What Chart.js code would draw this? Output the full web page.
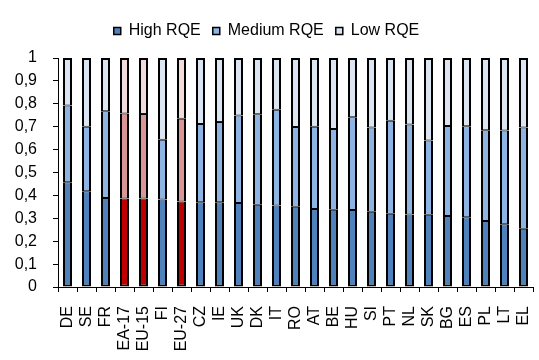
<!DOCTYPE html>
<html><head><meta charset="utf-8">
<script src="https://cdn.jsdelivr.net/npm/chart.js@4/dist/chart.umd.min.js"></script>
<style>html,body{margin:0;padding:0;background:#fff}#wrap{width:539px;height:360px}</style>
</head><body><div id="wrap"><canvas id="c" width="539" height="360"></canvas></div>
<script>
const categories = ["DE","SE","FR","EA-17","EU-15","FI","EU-27","CZ","IE","UK","DK","IT","RO","AT","BE","HU","SI","PT","NL","SK","BG","ES","PL","LT","EL"];
const highRQE   = [0.457,0.418,0.389,0.386,0.386,0.382,0.373,0.370,0.370,0.367,0.359,0.356,0.350,0.341,0.337,0.336,0.329,0.320,0.317,0.316,0.310,0.305,0.288,0.274,0.254];
const mediumRQE = [0.336,0.282,0.378,0.372,0.369,0.261,0.362,0.342,0.350,0.382,0.395,0.418,0.349,0.359,0.353,0.405,0.367,0.406,0.393,0.324,0.393,0.397,0.396,0.409,0.442];
const lowRQE    = [0.207,0.300,0.233,0.242,0.245,0.357,0.265,0.288,0.280,0.251,0.246,0.226,0.301,0.300,0.310,0.259,0.304,0.274,0.290,0.360,0.297,0.298,0.316,0.317,0.304];
const highlighted = ["EA-17","EU-15","EU-27"];
const yTicks = [0,0.1,0.2,0.3,0.4,0.5,0.6,0.7,0.8,0.9,1];

const isHL = c => highlighted.includes(c);
const colorsFor = (blue, red) => categories.map(c => isHL(c) ? red : blue);
const FONT = 'Liberation Sans, Arial, sans-serif';

const legendSpacer = {
  id:'legendSpacer',
  beforeInit(chart){
    const orig = chart.legend.fit;
    chart.legend.fit = function(){ orig.call(this); this.height += 9; };
  }
};

new Chart(document.getElementById('c'), {
  type: 'bar',
  data: {
    labels: categories,
    datasets: [
      {label:'High RQE', data: highRQE, backgroundColor: colorsFor('#4F81BD','#C00000'), borderColor:'#000', borderWidth:{left:2,right:2,top:1,bottom:2}, borderSkipped:false},
      {label:'Medium RQE', data: mediumRQE, backgroundColor: colorsFor('#8EB4E3','#D99694'), borderColor:'#000', borderWidth:{left:2,right:2,top:1,bottom:1}, borderSkipped:false},
      {label:'Low RQE', data: lowRQE, backgroundColor: colorsFor('#DCE6F2','#F2DCDB'), borderColor:'#000', borderWidth:{left:2,right:2,top:2,bottom:1}, borderSkipped:false}
    ]
  },
  plugins:[legendSpacer],
  options: {
    responsive:false, animation:false,
    layout:{padding:{left:0,right:6,top:11,bottom:0}},
    datasets:{bar:{barPercentage:0.474, categoryPercentage:1}},
    plugins:{
      legend:{position:'top', labels:{
        font:{family:FONT, size:16}, color:'#000',
        boxWidth:7, boxHeight:7, padding:12,
        generateLabels: chart => chart.data.datasets.map((ds,i)=>({
          text: ds.label, fillStyle: ds.backgroundColor[0], strokeStyle:'#000', lineWidth:1.5, datasetIndex:i, hidden:false
        }))
      }},
      tooltip:{enabled:false}
    },
    scales:{
      x:{stacked:true,
        afterFit: ax => { ax.height = 73; ax.paddingLeft = 0; ax.paddingRight = 0; },
        grid:{display:true, drawOnChartArea:false, offset:true, color:'#000', tickLength:5, tickColor:'#000'},
        border:{display:true, color:'#000', width:1},
        ticks:{font:{family:FONT, size:16}, color:'#000', minRotation:90, maxRotation:90, autoSkip:false, padding:14}
      },
      y:{stacked:true, min:0, max:1,
        afterBuildTicks: ax => { ax.ticks = yTicks.map(v=>({value:v})); },
        afterFit: ax => { ax.width = 58; ax.paddingTop = 0; ax.paddingBottom = 0; },
        grid:{display:true, drawOnChartArea:false, color:'#000', tickLength:5},
        border:{display:true, color:'#000', width:1},
        ticks:{font:{family:FONT, size:16}, color:'#000', padding:16,
          callback: v => String(+v.toFixed(1)).replace('.',',')}
      }
    }
  }
});
</script></body></html>
